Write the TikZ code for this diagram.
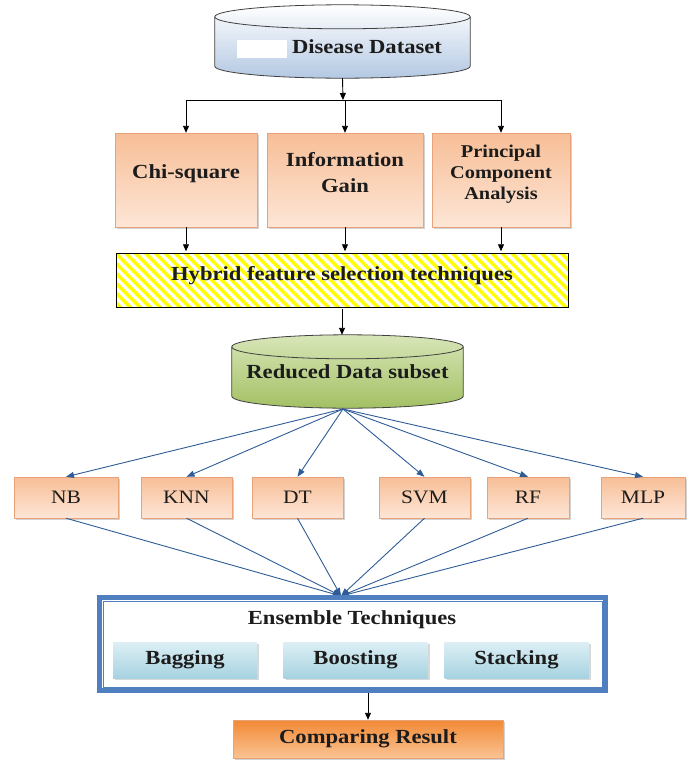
\documentclass[tikz,border=0pt]{standalone}
\usepackage{fontspec}
\setmainfont{Liberation Serif}[FakeStretch=1.13]
\usepackage{tikz}
\usetikzlibrary{arrows.meta,positioning,calc,shadows,patterns.meta,backgrounds}
\definecolor{dsblue}{HTML}{B3C8E2}
\definecolor{peach}{HTML}{F7BE97}
\definecolor{peachlight}{HTML}{FDE6D6}
\definecolor{peachedge}{HTML}{E8A37A}
\definecolor{rdgreen}{HTML}{A3C064}
\definecolor{rdgreenlight}{HTML}{D8E6B8}
\definecolor{enblue}{HTML}{4F7FBF}
\definecolor{lineblue}{HTML}{2E5C96}
\definecolor{skyblue}{HTML}{A6D3E1}
\definecolor{skylight}{HTML}{DDEFF5}
\definecolor{resorange}{HTML}{F28A35}
\definecolor{reslight}{HTML}{FAC393}
\definecolor{inkdark}{HTML}{1C1C1C}
% cylinder outline behind a node: node, top colour, bottom colour, cap half-height
\newcommand{\drum}[4]{%
  \draw[black!75, line width=0.8pt, top color=#2, bottom color=#3]
    let \p1=($(#1.east)-(#1.west)$) in
    ([yshift=-#4]#1.north west) -- ([yshift=#4]#1.south west)
    arc[start angle=180, end angle=360, x radius=0.5*\x1, y radius=#4]
    -- ([yshift=-#4]#1.north east)
    arc[start angle=0, end angle=180, x radius=0.5*\x1, y radius=#4] -- cycle;
  \draw[black!75, line width=0.8pt]
    let \p1=($(#1.east)-(#1.west)$) in
    ([yshift=-#4]#1.north west) arc[start angle=180, end angle=360, x radius=0.5*\x1, y radius=#4];
}

\begin{document}
\begin{tikzpicture}[x=1pt, y=1pt,
  font=\fontsize{20}{24}\selectfont\bfseries, text=inkdark,
  db/.style={rectangle, inner sep=0pt},
  fsbox/.style={rectangle, draw=peachedge, line width=0.4pt, top color=peach, bottom color=peachlight,
                align=center, inner sep=2pt, drop shadow={shadow xshift=2pt, shadow yshift=-2pt, fill=black!35}},
  clf/.style={fsbox, minimum height=41, font=\fontsize{19}{22}\selectfont},
  ens/.style={rectangle, top color=skylight, bottom color=skyblue, minimum width=144, minimum height=36,
              drop shadow={shadow xshift=2pt, shadow yshift=-2pt, fill=black!30}},
  arr/.style={-{Triangle[length=7pt,width=6pt]}, line width=0.9pt, draw=black},
  barr/.style={-{Triangle[length=8pt,width=6pt]}, line width=0.9pt, draw=lineblue}]
\useasboundingbox (0,0) rectangle (691,-761);

% data sources
\node[db, minimum width=255, minimum height=73, text height=25pt] (dis) at (342.5,-41.5) {\hspace{49pt}Disease Dataset};
\node[db, minimum width=231, minimum height=73] (red) at (347.5,-371.5) {Reduced Data subset};
\begin{scope}[on background layer]
  \drum{dis}{white}{dsblue}{12pt}
  \drum{red}{rdgreenlight}{rdgreen}{12pt}
\end{scope}
\fill[white] (237,-40) rectangle (287,-58);

% feature selection
\node[fsbox, minimum width=142, minimum height=94, text depth=16pt] (chi) at (186,-180) {Chi-square};
\node[fsbox, minimum width=156, minimum height=94, text depth=16pt] (inf) at (345,-180) {Information\\[2pt] Gain};
\node[fsbox, minimum width=138, minimum height=94, text depth=16pt, font=\fontsize{18}{21}\selectfont\bfseries] (pca) at (501,-180) {Principal\\ Component\\ Analysis};
\coordinate (split) at (343,-100);
\draw[arr] (dis.south) -- (split);
\draw[line width=0.9pt] (chi.north |- split) -- (pca.north |- split);
\foreach \b in {chi,inf,pca}
  \draw[arr] (\b.north |- split) -- (\b.north);

\node[rectangle, draw=black, line width=0.9pt, minimum width=452, minimum height=54, text depth=14pt,
      pattern={Lines[angle=-45,distance=7pt,line width=3.5pt]}, pattern color=yellow] (hyb) at (342,-280) {Hybrid feature selection techniques};
\foreach \b in {chi,inf,pca}
  \draw[arr] (\b.south) -- (\b.south |- hyb.north);
\draw[arr] (hyb.south) -- (hyb.south |- red.north);

% classifiers
\node[clf, minimum width=104] (nb) at (66,-497.5) {NB};
\node[clf, minimum width=91] (knn) at (186.5,-497.5) {KNN};
\node[clf, minimum width=91] (dt) at (297.5,-497.5) {DT};
\node[clf, minimum width=91] (svm) at (424.5,-497.5) {SVM};
\node[clf, minimum width=82] (rf) at (528,-497.5) {RF};
\node[clf, minimum width=84] (mlp) at (643,-497.5) {MLP};
\coordinate (fan) at (343,-409);
\coordinate (hub) at (341,-596);
\foreach \c in {nb,knn,dt,svm,rf,mlp} {
  \draw[barr] (fan) -- (\c.north);
  \draw[barr] (\c.south) -- (hub);
}

% ensemble
\node[rectangle, draw=enblue, line width=5pt, minimum width=506, minimum height=93] (ensbox) at (352.5,-644) {};
\draw[enblue, line width=1pt] ([shift={(6,-6)}]ensbox.north west) rectangle ([shift={(-6,6)}]ensbox.south east);
\node (enstxt) at (352,-620) {Ensemble Techniques};
\node[ens] (bag) at (185,-660) {Bagging};
\node[ens] (boost) at (355.5,-660) {Boosting};
\node[ens] (stack) at (516.5,-660) {Stacking};

% result
\node[rectangle, draw=peachedge, top color=resorange, bottom color=reslight, minimum width=270, minimum height=38,
      drop shadow={shadow xshift=2pt, shadow yshift=-2pt, fill=black!35}] (res) at (368,-739) {Comparing Result};
\draw[arr] (res.north |- ensbox.south) -- (res.north);
\end{tikzpicture}
\end{document}
